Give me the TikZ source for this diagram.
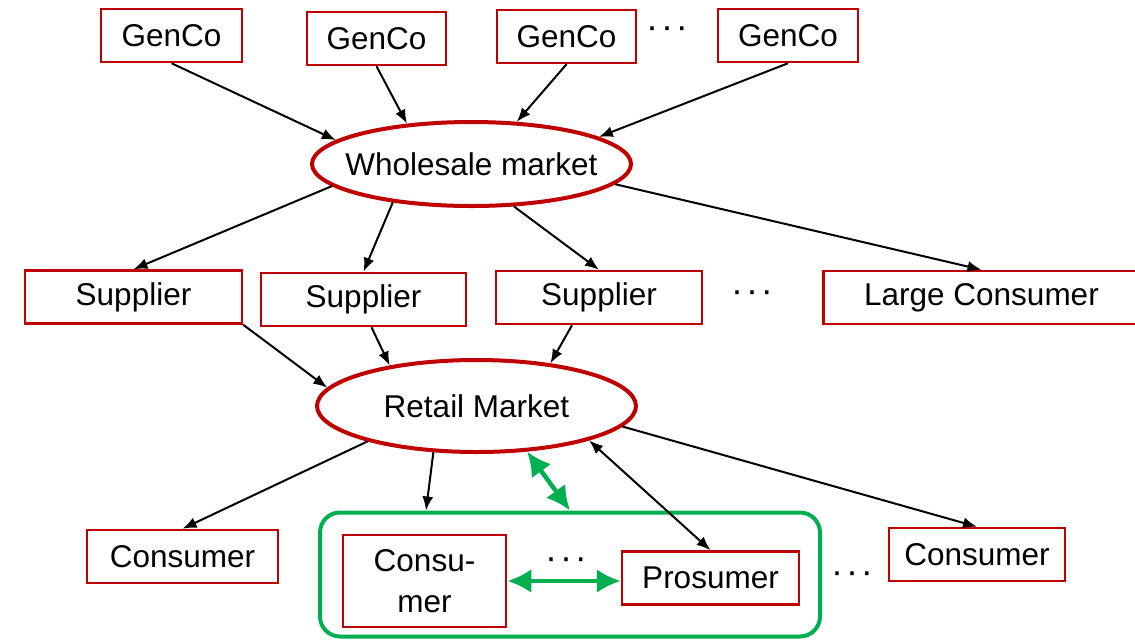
\documentclass[tikz,border=0pt]{standalone}
\usepackage{fontspec}
\setmainfont{Liberation Sans}
\usetikzlibrary{shapes.geometric,arrows.meta,positioning}
\definecolor{boxrot}{HTML}{C00000}
\definecolor{gruen}{HTML}{00B050}
\newcommand{\drei}{·\hspace{3pt}·\hspace{3pt}·}
\tikzset{
  akteur/.style={draw=boxrot, line width=2.5pt, inner sep=0pt, minimum height=53pt},
  markt/.style={ellipse, draw=boxrot, line width=4pt, inner sep=0pt},
  punkte/.style={inner sep=0pt, font=\fontsize{36}{40}\selectfont},
  pfeil/.style={line width=2pt, -{Latex[length=14pt,width=11pt]}},
  doppelpfeil/.style={line width=2pt, {Latex[length=14pt,width=11pt]}-{Latex[length=14pt,width=11pt]}},
  gpfeil/.style={gruen, line width=4.5pt, {Latex[length=24pt,width=24pt]}-{Latex[length=24pt,width=24pt]}},
}
\begin{document}
\begin{tikzpicture}[x=1pt, y=-1pt, font=\fontsize{31.5}{41}\selectfont]
    \useasboundingbox (0,0) rectangle (1135,641);
    % Erzeuger
    \node[akteur, minimum width=141pt] (gen1) at (171.5,35.5) {GenCo};
    \node[akteur, minimum width=139pt] (gen2) at (376.5,38.5) {GenCo};
    \node[akteur, minimum width=139pt] (gen3) at (566.5,36.5) {GenCo};
    \node[punkte] (p1) at (667,33) {\drei};
    \node[akteur, minimum width=140pt] (gen4) at (788,35.5) {GenCo};
    % Grosshandel
    \node[markt, minimum width=319pt, minimum height=84pt, label=center:{Wholesale market}] (gross) at (471.5,164) {};
    % Lieferanten
    \node[akteur, minimum width=217pt] (lief1) at (133.5,297) {Supplier};
    \node[akteur, minimum width=205pt] (lief2) at (363.5,299.5) {Supplier};
    \node[akteur, minimum width=206pt] (lief3) at (599,297.5) {Supplier};
    \node[punkte] (p2) at (752,297) {\drei};
    \node[akteur, minimum width=316pt] (gv) at (981.5,297.5) {Large Consumer};
    % Einzelhandel
    \node[markt, minimum width=319pt, minimum height=92pt, label=center:{Retail Market}] (einzel) at (476.5,406) {};
    % Verbraucher
    \node[akteur, minimum width=191pt] (kv1) at (182.5,556.5) {Consumer};
    \node[akteur, minimum width=176pt] (kv2) at (977,554.5) {Consumer};
    \node[punkte] (p4) at (852,578) {\drei};
    % Gruppe
    \node[draw=gruen, line width=4pt, rounded corners=20pt, minimum width=500pt, minimum height=124pt] (gruppe) at (570,574.5) {};
    \node[akteur, minimum width=163pt, minimum height=92pt, align=center] (kons) at (424.5,581) {Consu-\\mer};
    \node[akteur, minimum width=177pt] (pros) at (710.5,578) {Prosumer};
    \node[punkte] (p3) at (566,564) {\drei};
    % Pfeile oben
    \draw[pfeil] (gen1.south) -- (gross.170);
    \draw[pfeil] (gen2.south) -- (gross.148);
    \draw[pfeil] (gen3.south) -- (gross.43);
    \draw[pfeil] (gen4.south) -- (gross.12);
    \draw[pfeil] (gross.189) -- (lief1.north);
    \draw[pfeil] (gross.206) -- (lief2.north);
    \draw[pfeil] (gross.315) -- (lief3.north);
    \draw[pfeil] (gross.352) -- (gv.north);
    % Pfeile unten
    \draw[pfeil] (lief1.south east) -- (einzel.173);
    \draw[pfeil] ([xshift=8pt]lief2.south) -- (einzel.155);
    \draw[pfeil] ([xshift=-27pt]lief3.south) -- (einzel.30);
    \draw[pfeil] (einzel.198) -- (kv1.north);
    \draw[pfeil] (einzel.227) -- ([xshift=-144pt]gruppe.north);
    \draw[pfeil] (einzel.352) -- (kv2.north);
    \draw[doppelpfeil] (einzel.343) -- (pros.north);
    % Austausch
    \draw[gpfeil] (einzel.318) -- (gruppe.north);
    \draw[gpfeil] (kons.east) -- (kons.east -| pros.west);
\end{tikzpicture}
\end{document}
